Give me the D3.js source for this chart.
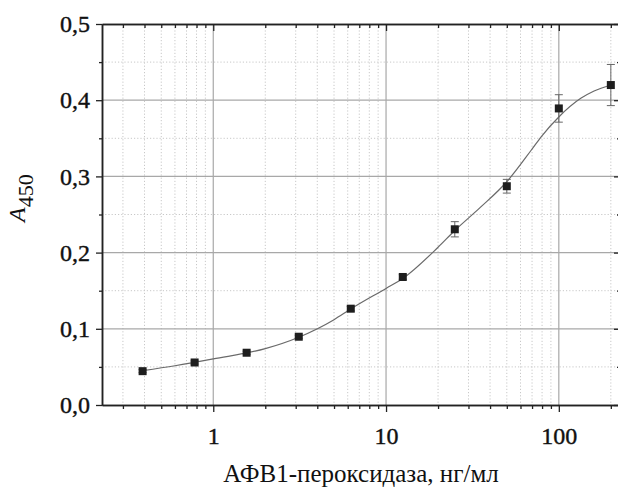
<!DOCTYPE html>
<html>
<head>
<meta charset="utf-8">
<script src="https://cdn.jsdelivr.net/npm/d3@7"></script>
<style>
  html, body { margin: 0; padding: 0; background: #fff; }
  svg { display: block; }
</style>
</head>
<body>
<script>
// ---- data ----
const concentrations = [0.39, 0.78, 1.56, 3.125, 6.25, 12.5, 25, 50, 100, 200];
const absorbance     = [0.0444, 0.0558, 0.0686, 0.0896, 0.1264, 0.168, 0.2306, 0.2871, 0.3892, 0.4199];
const errors         = [0.002, 0.002, 0.002, 0.002, 0.003, 0.003, 0.010, 0.009, 0.018, 0.027];
const fitX = [0.39, 0.6, 1, 2, 3.125, 5, 6.25, 10, 12.5, 20, 25, 35, 50, 69, 79, 100, 134, 160, 200];
const fitY = [0.045, 0.0515, 0.0605, 0.074, 0.089, 0.112, 0.126, 0.153, 0.166, 0.207, 0.229, 0.259, 0.293, 0.334, 0.352, 0.378, 0.4024, 0.412, 0.42];
const xMajorTicks = [1, 10, 100];
const xTickLabels = ["1", "10", "100"];
const yMajorTicks = [0, 0.1, 0.2, 0.3, 0.4, 0.5];
const yTickLabels = ["0,0", "0,1", "0,2", "0,3", "0,4", "0,5"];
const yMinorTicks = [0.05, 0.15, 0.25, 0.35, 0.45];
const xTitle = "АФВ1-пероксидаза, нг/мл";

(function () {
const W = 618, H = 488;
const FONT = '"Liberation Serif"';
const pL = 102, pR = 620, pT = 24, pB = 405;

const svg = d3.select("body").append("svg").attr("width", W).attr("height", H);
svg.append("rect").attr("width", W).attr("height", H).attr("fill", "#fff");

const x = d3.scaleLog().domain([0.227, 226]).range([pL, pR]);
const y = d3.scaleLinear().domain([0, 0.5]).range([pB, pT]);

const xMinor = x.ticks().filter(v => !xMajorTicks.includes(v));

// ---- grid ----
const grid = svg.append("g");
grid.selectAll(".gxm").data(xMinor).join("line")
  .attr("x1", d => x(d)).attr("x2", d => x(d)).attr("y1", pT).attr("y2", pB)
  .attr("stroke", "#c8c8c8").attr("stroke-width", 1).attr("stroke-dasharray", "1.2,2");
grid.selectAll(".gym").data(yMinorTicks).join("line")
  .attr("x1", pL).attr("x2", pR).attr("y1", d => y(d)).attr("y2", d => y(d))
  .attr("stroke", "#c8c8c8").attr("stroke-width", 1).attr("stroke-dasharray", "1.2,2");
grid.selectAll(".gxM").data(xMajorTicks).join("line")
  .attr("x1", d => x(d)).attr("x2", d => x(d)).attr("y1", pT).attr("y2", pB)
  .attr("stroke", "#a8a8a8").attr("stroke-width", 1.2);
grid.selectAll(".gyM").data(yMajorTicks.filter(v => v > 0 && v < 0.5)).join("line")
  .attr("x1", pL).attr("x2", pR).attr("y1", d => y(d)).attr("y2", d => y(d))
  .attr("stroke", "#a8a8a8").attr("stroke-width", 1.2);

// ---- fitted curve ----
const line = d3.line().x(d => x(d[0])).y(d => y(d[1])).curve(d3.curveMonotoneX);
svg.append("path").datum(fitX.map((v, i) => [v, fitY[i]]))
  .attr("d", line).attr("fill", "none").attr("stroke", "#6a6a6a").attr("stroke-width", 1.2);

// ---- error bars ----
const pts = concentrations.map((c, i) => ({c, a: absorbance[i], e: errors[i]}));
const eb = svg.append("g").attr("stroke", "#666").attr("stroke-width", 1);
eb.selectAll(".v").data(pts).join("line")
  .attr("x1", d => x(d.c)).attr("x2", d => x(d.c))
  .attr("y1", d => y(d.a - d.e)).attr("y2", d => y(d.a + d.e));
eb.selectAll(".t").data(pts).join("line")
  .attr("x1", d => x(d.c) - 4).attr("x2", d => x(d.c) + 4)
  .attr("y1", d => y(d.a + d.e)).attr("y2", d => y(d.a + d.e));
eb.selectAll(".b").data(pts).join("line")
  .attr("x1", d => x(d.c) - 4).attr("x2", d => x(d.c) + 4)
  .attr("y1", d => y(d.a - d.e)).attr("y2", d => y(d.a - d.e));

// ---- markers ----
svg.append("g").selectAll("rect").data(pts).join("rect")
  .attr("x", d => x(d.c) - 4).attr("y", d => y(d.a) - 4)
  .attr("width", 8).attr("height", 8).attr("fill", "#1e1e1e");

// ---- axes ----
function styleAxis(g) {
  g.attr("font-family", null).attr("font-size", null);
  g.select(".domain").attr("stroke", "#222").attr("stroke-width", 1.5);
  g.selectAll(".tick line").attr("stroke", "#222").attr("stroke-width", 1.3);
  g.selectAll("text").style("font-family", FONT).attr("font-size", 24).attr("fill", "#111")
    .attr("stroke", "#111").attr("stroke-width", 0.4);
}
// bottom
svg.append("g").attr("transform", `translate(0,${pB})`)
  .call(d3.axisBottom(x).tickValues(xMinor).tickSize(4).tickSizeOuter(0).tickFormat(""))
  .call(styleAxis);
svg.append("g").attr("transform", `translate(0,${pB})`)
  .call(d3.axisBottom(x).tickValues(xMajorTicks).tickSize(7).tickSizeOuter(0).tickPadding(15)
    .tickFormat((d, i) => xTickLabels[i]))
  .call(styleAxis);
// top
svg.append("g").attr("transform", `translate(0,${pT})`)
  .call(d3.axisTop(x).tickValues(xMinor).tickSize(-4).tickSizeOuter(0).tickFormat(""))
  .call(styleAxis);
svg.append("g").attr("transform", `translate(0,${pT})`)
  .call(d3.axisTop(x).tickValues(xMajorTicks).tickSize(-7).tickSizeOuter(0).tickFormat(""))
  .call(styleAxis);
// left
svg.append("g").attr("transform", `translate(${pL},0)`)
  .call(d3.axisLeft(y).tickValues(yMinorTicks).tickSize(3).tickSizeOuter(0).tickFormat(""))
  .call(styleAxis);
svg.append("g").attr("transform", `translate(${pL},0)`)
  .call(d3.axisLeft(y).tickValues(yMajorTicks).tickSize(6).tickSizeOuter(0).tickPadding(6)
    .tickFormat((d, i) => yTickLabels[i]))
  .call(styleAxis);
// right
svg.append("g").attr("transform", `translate(${pR},0)`)
  .call(d3.axisRight(y).tickValues(yMinorTicks).tickSize(-3).tickSizeOuter(0).tickFormat(""))
  .call(styleAxis);
svg.append("g").attr("transform", `translate(${pR},0)`)
  .call(d3.axisRight(y).tickValues(yMajorTicks).tickSize(-6).tickSizeOuter(0).tickFormat(""))
  .call(styleAxis);

// ---- titles ----
svg.append("text").attr("x", (pL + pR) / 2).attr("y", 482)
  .attr("text-anchor", "middle").style("font-family", FONT).attr("font-size", 25).attr("fill", "#111")
  .text(xTitle);

const yl = svg.append("text").attr("transform", "translate(25,222) rotate(-90)")
  .style("font-family", FONT).attr("font-size", 24).attr("fill", "#111");
yl.append("tspan").attr("font-style", "italic").text("A");
yl.append("tspan").attr("dy", 8).attr("font-size", 22).text("450");
})();
</script>
</body>
</html>
